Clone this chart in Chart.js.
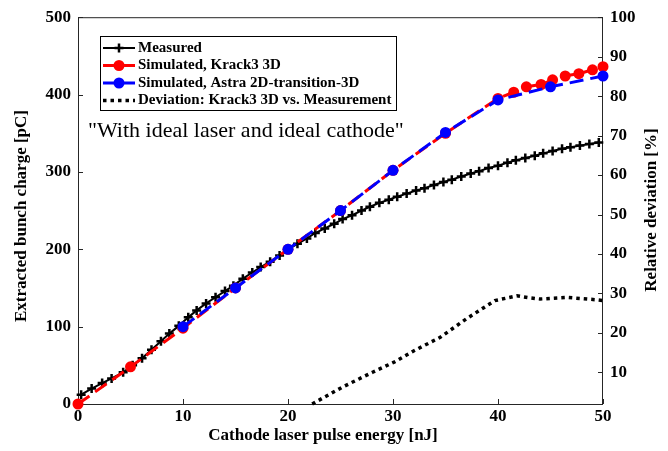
<!DOCTYPE html>
<html>
<head>
<meta charset="utf-8">
<script src="https://cdn.jsdelivr.net/npm/chart.js@4"></script>
<style>
html, body { margin: 0; padding: 0; background: #fff; }
#grafico { display: block; }
</style>
</head>
<body>
<canvas id="grafico" width="668" height="451"></canvas>
<script>
// datos
const measuredEnergy = [0.3, 1.3, 2.3, 3.2, 4.3, 5.2, 6.1, 7.0, 7.9, 8.7, 9.6, 10.5, 11.3, 12.2, 13.1, 14.0, 14.8, 15.7, 16.6, 17.4, 18.3, 19.2, 20.0, 20.9, 21.8, 22.6, 23.5, 24.4, 25.2, 26.1, 27.0, 27.8, 28.7, 29.6, 30.4, 31.3, 32.2, 33.0, 33.9, 34.8, 35.6, 36.5, 37.4, 38.2, 39.1, 40.0, 40.9, 41.7, 42.6, 43.5, 44.3, 45.2, 46.1, 46.9, 47.8, 48.7, 49.6];
const measuredCharge = [12, 20, 27, 33, 41, 50, 59, 70, 81, 91, 101, 112, 121, 130, 138, 146, 153, 162, 170, 177, 184, 192, 200, 207, 214, 221, 227, 233, 239, 244, 250, 255, 260, 264, 268, 272, 276, 279, 283, 287, 290, 294, 298, 301, 305, 308, 312, 315, 318, 321, 324, 327, 330, 332, 334, 336, 338];

const krackEnergy = [0, 5, 10, 15, 20, 25, 30, 35, 40, 41.5, 42.7, 44.1, 45.2, 46.4, 47.7, 49, 50];
const krackCharge = [0, 48, 98, 150, 200, 250, 302, 350, 395, 403, 410, 413, 419, 424, 427, 432, 436];

const astraEnergy = [10, 15, 20, 25, 30, 35, 40, 45, 50];
const astraCharge = [100, 150, 200, 250, 302, 351, 393, 410, 424];

const deviationEnergy = [22.3, 25.2, 28.1, 30.1, 32.0, 34.5, 37.0, 39.7, 41.8, 43.0, 44.0, 46.6, 49.4, 50];
const deviationPercent = [2, 6.3, 10.1, 12.6, 15.5, 18.9, 23.6, 28.2, 29.4, 28.9, 28.6, 29.0, 28.4, 28.2];

const leftTicks = [0, 100, 200, 300, 400, 500];
const rightTicks = [10, 20, 30, 40, 50, 60, 70, 80, 90, 100];
const xTicks = [0, 10, 20, 30, 40, 50];

const serif = '"Liberation Serif", "Times New Roman", serif';

function pairs(xs, ys) {
    return xs.map((x, i) => ({ x: x, y: ys[i] }));
}

function setTicks(values) {
    return scale => { scale.ticks = values.map(v => ({ value: v })); };
}

const marcos = {
    id: 'marcos',
    beforeDatasetsDraw(chart) {
        const ctx = chart.ctx;
        const a = chart.chartArea;
        const sx = chart.scales.x, sy = chart.scales.y, sy1 = chart.scales.y1;
        ctx.save();
        ctx.strokeStyle = '#262626';
        ctx.lineWidth = 1;
        ctx.strokeRect(a.left + 0.5, a.top + 0.5, a.right - a.left - 1, a.bottom - a.top);
        ctx.beginPath();
        xTicks.forEach(v => {
            const px = Math.round(sx.getPixelForValue(v)) + 0.5;
            ctx.moveTo(px, a.bottom); ctx.lineTo(px, a.bottom - 5);
        });
        leftTicks.forEach(v => {
            const py = Math.round(sy.getPixelForValue(v)) + 0.5;
            ctx.moveTo(a.left, py); ctx.lineTo(a.left + 5, py);
        });
        rightTicks.forEach(v => {
            const py = Math.round(sy1.getPixelForValue(v)) + 0.5;
            ctx.moveTo(a.right, py); ctx.lineTo(a.right - 5, py);
        });
        ctx.stroke();
        ctx.restore();
    },
    afterDraw(chart) {
        const ctx = chart.ctx;
        ctx.save();
        ctx.fillStyle = '#000';
        // titulos de los ejes
        ctx.font = 'bold 17px ' + serif;
        ctx.textAlign = 'center';
        ctx.textBaseline = 'middle';
        ctx.fillText('Cathode laser pulse energy [nJ]', 323, 436);
        ctx.save();
        ctx.translate(22, 216);
        ctx.rotate(-Math.PI / 2);
        ctx.fillText('Extracted bunch charge [pC]', 0, 0);
        ctx.restore();
        ctx.save();
        ctx.translate(652, 210);
        ctx.rotate(-Math.PI / 2);
        ctx.fillText('Relative deviation [%]', 0, 0);
        ctx.restore();

        // anotacion
        ctx.font = '22px ' + serif;
        ctx.textAlign = 'left';
        ctx.fillText('"With ideal laser and ideal cathode"', 88, 131);

        // leyenda
        ctx.fillStyle = '#fff';
        ctx.fillRect(100, 36, 296, 74);
        ctx.strokeStyle = '#000';
        ctx.lineWidth = 1;
        ctx.strokeRect(100.5, 36.5, 296, 74);
        const rows = [48, 65.5, 83, 100.5];
        chart.data.datasets.forEach((ds, i) => {
            const y = rows[i];
            ctx.save();
            ctx.strokeStyle = ds.borderColor;
            ctx.lineWidth = ds.borderWidth;
            ctx.setLineDash(ds.borderDash || []);
            ctx.beginPath();
            ctx.moveTo(103, y); ctx.lineTo(135, y);
            ctx.stroke();
            ctx.setLineDash([]);
            if (ds.pointStyle === 'cross') {
                ctx.lineWidth = 2.5;
                ctx.beginPath();
                ctx.moveTo(119, y - 4.5); ctx.lineTo(119, y + 4.5);
                ctx.moveTo(114.5, y); ctx.lineTo(123.5, y);
                ctx.stroke();
            } else if (ds.pointRadius > 0) {
                ctx.fillStyle = ds.pointBackgroundColor;
                ctx.beginPath();
                ctx.arc(119, y, ds.pointRadius, 0, Math.PI * 2);
                ctx.fill();
            }
            ctx.restore();
            ctx.fillStyle = '#000';
            ctx.font = 'bold 15px ' + serif;
            ctx.textBaseline = 'middle';
            ctx.fillText(ds.label, 138, y);
        });
        ctx.restore();
    }
};

const tickFont = { family: serif, size: 17, weight: 'bold' };

new Chart(document.getElementById('grafico').getContext('2d'), {
    type: 'line',
    data: {
        datasets: [
            {
                label: 'Measured',
                data: pairs(measuredEnergy, measuredCharge),
                borderColor: '#000',
                borderWidth: 2,
                pointStyle: 'cross',
                pointRadius: 4.5,
                pointBorderWidth: 2.5,
                pointBorderColor: '#000',
                yAxisID: 'y',
                order: 4
            },
            {
                label: 'Simulated, Krack3 3D',
                data: pairs(krackEnergy, krackCharge),
                borderColor: '#ff0000',
                borderWidth: 3,
                borderDash: [14, 7],
                pointRadius: 5.5,
                pointBorderWidth: 0,
                pointBackgroundColor: '#ff0000',
                yAxisID: 'y',
                order: 3
            },
            {
                label: 'Simulated, Astra 2D-transition-3D',
                data: pairs(astraEnergy, astraCharge),
                borderColor: '#0000ff',
                borderWidth: 3,
                borderDash: [14, 7],
                pointRadius: 5.5,
                pointBorderWidth: 0,
                pointBackgroundColor: '#0000ff',
                yAxisID: 'y',
                order: 2
            },
            {
                label: 'Deviation: Krack3 3D vs. Measurement',
                data: pairs(deviationEnergy, deviationPercent),
                borderColor: '#000',
                borderWidth: 3.5,
                borderDash: [3.5, 4],
                pointRadius: 0,
                yAxisID: 'y1',
                order: 1
            }
        ]
    },
    options: {
        responsive: false,
        animation: false,
        clip: false,
        layout: { padding: { top: 14, left: 0, right: 0, bottom: 0 } },
        elements: { line: { tension: 0, fill: false } },
        plugins: { legend: { display: false }, tooltip: { enabled: false } },
        scales: {
            x: {
                type: 'linear',
                min: 0, max: 50,
                afterBuildTicks: setTicks(xTicks),
                afterFit: s => { s.height = 47; },
                grid: { display: false, drawTicks: false },
                border: { display: false },
                ticks: { font: tickFont, color: '#000', padding: 2, maxRotation: 0 }
            },
            y: {
                position: 'left',
                min: 0, max: 500,
                afterBuildTicks: setTicks(leftTicks),
                afterFit: s => { s.width = 78; },
                grid: { display: false, drawTicks: false },
                border: { display: false },
                ticks: { font: tickFont, color: '#000', padding: 7 }
            },
            y1: {
                position: 'right',
                min: 2, max: 100,
                afterBuildTicks: setTicks(rightTicks),
                afterFit: s => { s.width = 65; },
                grid: { display: false, drawTicks: false },
                border: { display: false },
                ticks: { font: tickFont, color: '#000', padding: 7 }
            }
        }
    },
    plugins: [marcos]
});
</script>
</body>
</html>
